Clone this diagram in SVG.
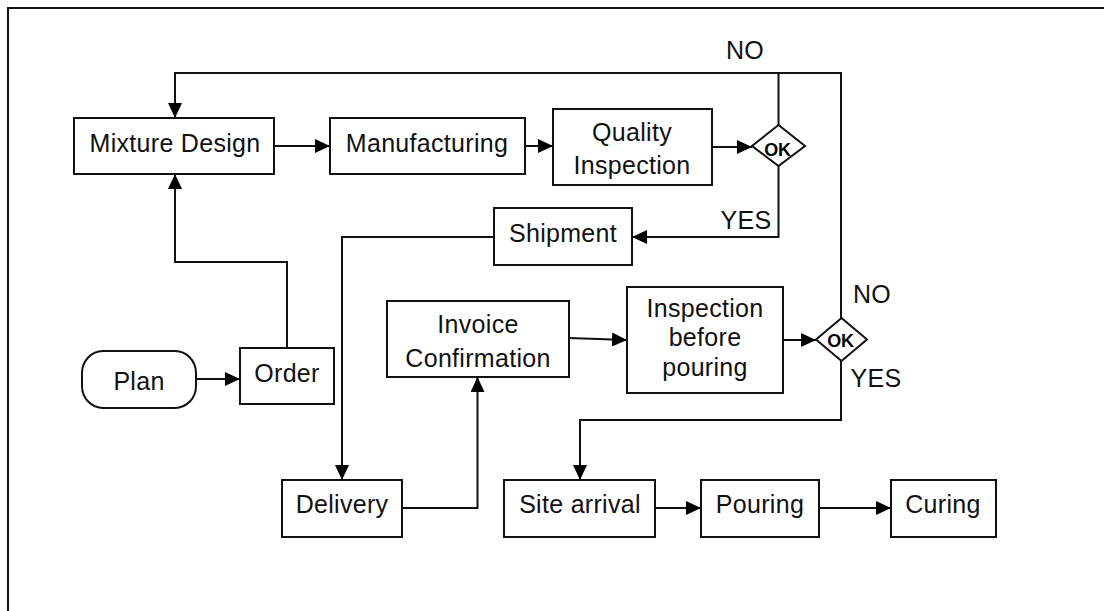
<svg xmlns="http://www.w3.org/2000/svg" width="1104" height="611" viewBox="0 0 1104 611">
<style>
.box{fill:#fff;stroke:#111;stroke-width:2}
.t{font-family:"Liberation Sans",Arial,sans-serif;font-size:25px;fill:#111;text-anchor:middle;letter-spacing:0.3px}
.ok{font-family:"Liberation Sans",Arial,sans-serif;font-size:18px;font-weight:bold;fill:#000;text-anchor:middle;letter-spacing:-0.3px}
.c{fill:none;stroke:#111;stroke-width:2}
</style>
<defs>
<marker id="ah" markerUnits="userSpaceOnUse" markerWidth="15" markerHeight="14" refX="15" refY="7" orient="auto">
<path d="M0,0 L15,7 L0,14 z" fill="#000"/>
</marker>
</defs>
<rect width="1104" height="611" fill="#fff"/>
<path d="M8,611 V8 H1104" fill="none" stroke="#111" stroke-width="2"/>

<g id="connectors">
<path class="c" d="M778.5,125 V73 H175 V118" marker-end="url(#ah)"/>
<path class="c" d="M841,318 V73 H778.5"/>
<path class="c" d="M274,146 H330" marker-end="url(#ah)"/>
<path class="c" d="M525,146 H553" marker-end="url(#ah)"/>
<path class="c" d="M712,147 H752" marker-end="url(#ah)"/>
<path class="c" d="M778.5,166 V237 H632" marker-end="url(#ah)"/>
<path class="c" d="M494,237 H342 V480" marker-end="url(#ah)"/>
<path class="c" d="M287,348 V262 H175 V174" marker-end="url(#ah)"/>
<path class="c" d="M196,379 H240" marker-end="url(#ah)"/>
<path class="c" d="M402,508 H477.5 V377" marker-end="url(#ah)"/>
<path class="c" d="M569,338 L627,340" marker-end="url(#ah)"/>
<path class="c" d="M783,340 H816" marker-end="url(#ah)"/>
<path class="c" d="M841,361 V420 H580 V480" marker-end="url(#ah)"/>
<path class="c" d="M655,508 H701" marker-end="url(#ah)"/>
<path class="c" d="M819,508 H891" marker-end="url(#ah)"/>
</g>

<g id="labels">
<text class="t" x="745" y="59">NO</text>
<text class="t" x="746" y="229">YES</text>
<text class="t" x="872" y="303">NO</text>
<text class="t" x="876" y="387">YES</text>
</g>

<g id="mixture-design"><rect class="box" x="74" y="118" width="200" height="56"/><text class="t" x="175" y="152">Mixture Design</text></g>
<g id="manufacturing"><rect class="box" x="330" y="118" width="195" height="56"/><text class="t" x="427" y="152">Manufacturing</text></g>
<g id="quality-inspection"><rect class="box" x="553" y="109" width="159" height="76"/><text class="t" x="632" y="141">Quality</text><text class="t" x="632" y="174">Inspection</text></g>
<g id="decision-1"><path class="box" d="M778.5,125 L805,146 L778.5,166 L752,146 z"/><text class="ok" x="777.5" y="156">OK</text></g>
<g id="shipment"><rect class="box" x="494" y="208" width="138" height="57"/><text class="t" x="563" y="242">Shipment</text></g>
<g id="plan"><rect class="box" x="82" y="351" width="114" height="57" rx="21" ry="22"/><text class="t" x="139" y="390">Plan</text></g>
<g id="order"><rect class="box" x="240" y="348" width="94" height="56"/><text class="t" x="287" y="382">Order</text></g>
<g id="invoice-confirmation"><rect class="box" x="387" y="301" width="182" height="76"/><text class="t" x="478" y="333">Invoice</text><text class="t" x="478" y="367">Confirmation</text></g>
<g id="inspection-before-pouring"><rect class="box" x="627" y="287" width="156" height="106"/><text class="t" x="705" y="317">Inspection</text><text class="t" x="705" y="346">before</text><text class="t" x="705" y="376">pouring</text></g>
<g id="decision-2"><path class="box" d="M841.5,318 L867,339.5 L841.5,361 L816,339.5 z"/><text class="ok" x="840.5" y="347">OK</text></g>
<g id="delivery"><rect class="box" x="282" y="480" width="120" height="57"/><text class="t" x="342" y="513">Delivery</text></g>
<g id="site-arrival"><rect class="box" x="504" y="480" width="151" height="57"/><text class="t" x="580" y="513">Site arrival</text></g>
<g id="pouring"><rect class="box" x="701" y="480" width="118" height="57"/><text class="t" x="760" y="513">Pouring</text></g>
<g id="curing"><rect class="box" x="891" y="480" width="105" height="57"/><text class="t" x="943" y="513">Curing</text></g>
</svg>
